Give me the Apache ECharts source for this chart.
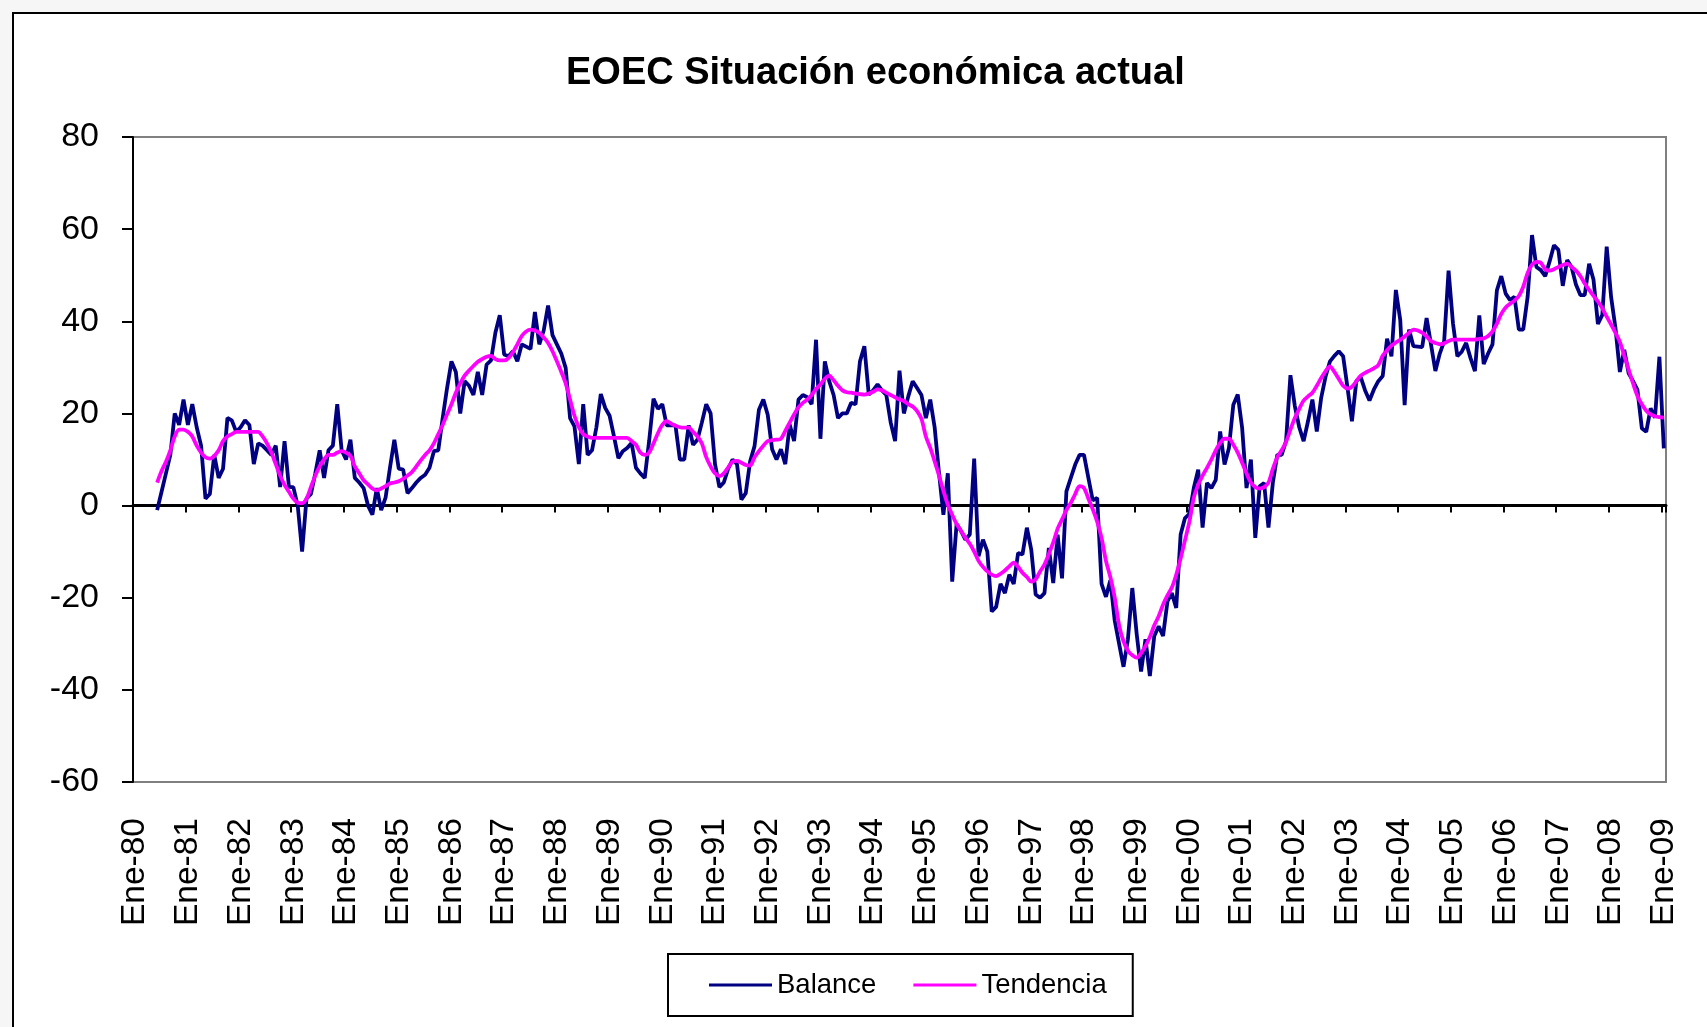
<!DOCTYPE html>
<html>
<head>
<meta charset="utf-8">
<script src="https://cdn.jsdelivr.net/npm/echarts@6.0.0/dist/echarts.min.js"></script>
<style>
  html, body { margin: 0; padding: 0; width: 1707px; height: 1027px; overflow: hidden; background: #f6f6f6; }
  #frame { position: absolute; left: 12px; top: 12px; width: 1730px; height: 1040px; background: #fff; border: 2px solid #000; box-sizing: border-box; }
  #chart { position: absolute; left: 0; top: 0; width: 1707px; height: 1027px; }
</style>
</head>
<body>
<div id="frame"></div>
<div id="chart"></div>
<script>
// Monthly series, January 1980 to January 2009 (one row per year, Ene..Dic)
const monthNames = ['Ene', 'Feb', 'Mar', 'Abr', 'May', 'Jun', 'Jul', 'Ago', 'Sep', 'Oct', 'Nov', 'Dic'];
const firstYear = 1980;
const lastYear = 2009;

const balance = [
  null, null, null, null, null, -1, 3, 7, 11, 20, 17.5, 23,            // 1980
  17.5, 22, 17, 13, 1.5, 2.5, 11, 6, 8, 19, 18.5, 16,                 // 1981
  17, 18.5, 17.5, 9, 13.5, 13, 12, 11, 13, 4, 14, 4,                  // 1982
  4, 0, -10, 1.5, 2.5, 7, 12, 6, 12, 13, 22, 12,                      // 1983
  10, 14.3, 6, 5, 3.8, 0, -2, 3.8, -1, 1.7, 8.2, 14.3,                // 1984
  8, 7.8, 2.7, 3.8, 5, 6, 6.7, 8.2, 11.8, 12, 19, 25.5,               // 1985
  31.3, 29, 20, 27, 26, 24, 29, 24, 30.6, 31.5, 37.5, 41.3,           // 1986
  32.8, 32.4, 33.5, 31.3, 35, 34.5, 34, 42, 35, 38, 43.4, 37,         // 1987
  35, 33, 29.9, 19, 17.2, 9, 22, 11, 12, 17, 24.2, 21.2,              // 1988
  19.5, 15, 10.3, 11.8, 12.5, 13.6, 8.2, 7, 6, 14, 23.2, 21,          // 1989
  22, 17.4, 17.4, 17.4, 10, 10, 17.4, 13.2, 14.3, 18, 22, 20,         // 1990
  9, 4, 5, 8, 10, 9, 1.3, 2.7, 9.6, 12.9, 20.8, 23,                   // 1991
  19.7, 12.2, 10, 12.2, 9, 17.6, 14, 23, 24, 23.5, 22, 36,            // 1992
  14.5, 31.3, 27, 24, 19, 20, 20, 22.3, 22, 31.3, 34.6, 24.1,         // 1993
  25, 26.3, 25, 24, 18, 14, 29.3, 20, 23.7, 27, 25.5, 24,             // 1994
  19, 23, 17, 7, -2, 7, -16.5, -4, -5.5, -7.4, -6.3, 10.2,            // 1995
  -11, -7.4, -10, -23, -22, -17, -19, -15, -17, -10.3, -10.6, -4.8,   // 1996
  -9.6, -19.3, -20, -19, -9.2, -16.8, -6.3, -15.8, 3.1, 6, 8.9, 11,   // 1997
  11, 6, 1.1, 1.7, -17, -19.8, -16.2, -25, -30, -35, -29, -17.9,      // 1998
  -27.9, -36, -29, -37, -28.3, -26.2, -28.3, -20.8, -19, -22.2, -6.3, -2.7, // 1999
  -1.8, 3.8, 7.8, -4.8, 4.9, 3.8, 5.6, 16.1, 8.9, 12.5, 21.9, 24.1,   // 2000
  16.9, 3.8, 10, -7, 4.2, 4.9, -4.8, 5, 11, 11, 14, 28.3,             // 2001
  21.6, 17, 14, 18.3, 23, 16.1, 23.4, 28, 31.3, 32.5, 33.5, 32.4,     // 2002
  25.5, 18.3, 27, 27.9, 25, 22.8, 25.2, 27, 28.1, 36.2, 32.4, 46.8,   // 2003
  40.3, 21.8, 38.2, 34.6, 34.5, 34.4, 40.7, 35, 29.2, 33, 35.7, 51,   // 2004
  39.6, 32.4, 33.4, 35.3, 32, 29.2, 41.3, 30.7, 33, 35, 46.7, 49.8,   // 2005
  46, 44.6, 45.3, 38.2, 38.2, 45.3, 58.7, 51.8, 51.1, 49.8, 53, 56.5, // 2006
  55.5, 47.7, 53.3, 51.8, 48, 45.7, 45.7, 52.5, 49, 39.4, 41.4, 56.2, // 2007
  45.3, 38.5, 29, 33.8, 28.7, 27, 25.1, 16.8, 16, 21.1, 19.1, 32.3,   // 2008
  12.4                                                                // 2009
];

const tendencia = [
  null, null, null, null, null, 5, 7.5, 9.5, 12, 15, 16.5, 16.5,          // 1980
  16, 15, 13, 11.5, 10.5, 10.2, 10.8, 12, 14, 15, 15.5, 16,               // 1981
  16, 16, 16, 16, 16, 15, 13.5, 11.5, 9, 6.5, 4.5, 3,                     // 1982
  1.5, 0.6, 0.5, 1.5, 4, 6.5, 8.5, 10, 11, 11, 11.5, 11.8,                // 1983
  11.5, 10.8, 8.5, 7, 5.5, 4.6, 3.7, 3.3, 3.7, 4.2, 4.8, 5,               // 1984
  5.3, 5.8, 6.5, 7.3, 8.5, 9.8, 11, 12, 13.5, 15.5, 17.5, 19.8,           // 1985
  22, 24.5, 26.5, 28.2, 29.3, 30.3, 31.2, 31.8, 32.3, 32.5, 31.8, 31.5,   // 1986
  31.5, 32, 33.3, 35, 36.8, 37.8, 38.2, 38, 37.5, 36.5, 35.3, 33.5,       // 1987
  31.3, 29, 26.5, 23, 19.5, 17, 15.5, 15, 14.7, 14.7, 14.7, 14.7,         // 1988
  14.7, 14.7, 14.7, 14.7, 14.7, 14, 13.2, 11.5, 11, 11.5, 13.5, 15.7,     // 1989
  17.5, 18.3, 17.8, 17.3, 17, 16.9, 16.9, 16, 15, 13.5, 10.5, 8.5,        // 1990
  7, 6.4, 7, 8.3, 9.5, 9.7, 9.3, 8.8, 8.7, 10.5, 11.8, 13,                // 1991
  14, 14.2, 14.3, 14.5, 16.2, 18, 19.8, 21.3, 22.3, 23, 24, 25.3,         // 1992
  26.3, 27.5, 28.2, 27.2, 26, 25, 24.6, 24.5, 24.3, 24.2, 24.1, 24.3,     // 1993
  24.7, 25.2, 25, 24.5, 24, 23.5, 23, 22.7, 22, 21.5, 20.5, 18.8,         // 1994
  15, 12.5, 9.6, 6.5, 3.2, 0.2, -2, -4, -5.5, -7, -8.3, -10,              // 1995
  -12, -13.3, -14.3, -15, -15.3, -14.8, -14.1, -13.2, -12.4, -13.3, -14.6, -15.5, // 1996
  -16.5, -16, -14.3, -12.8, -10.5, -8, -5, -3, -1, 0.6, 2.5, 4.2,         // 1997
  3.8, 1.5, -0.8, -3.5, -7, -12, -15.5, -20, -26, -29.5, -31.5, -32.5,    // 1998
  -33, -32, -30.5, -28.5, -26, -24, -21.5, -19.5, -17.8, -15, -11.5, -7.5, // 1999
  -3.5, 1.7, 4.5, 6.5, 8.2, 10, 12, 13.6, 14.5, 14.5, 13.2, 11.5,         // 2000
  9.3, 7, 5, 4, 3.7, 4, 5, 8, 10.5, 12, 13.8, 16.5,                       // 2001
  19, 21, 22.8, 23.7, 24.5, 26, 27.7, 29.2, 30.2, 29, 27.5, 26,           // 2002
  25.4, 25.8, 27, 28.2, 28.8, 29.3, 29.8, 30.5, 32.5, 33.7, 34.7, 35.4,   // 2003
  36, 36.7, 37.5, 38.2, 38, 37.5, 36.7, 35.7, 35.3, 35, 35.2, 35.7,       // 2004
  36, 36, 36, 36, 36, 36, 36.2, 36.3, 36.8, 37.8, 39.5, 41.6,             // 2005
  43, 43.8, 44.5, 45.5, 47.5, 50.5, 52.3, 52.9, 52.7, 51.3, 51, 51.3,     // 2006
  51.8, 52.2, 52.5, 51.8, 51, 49.8, 48.2, 46.8, 45.5, 44.3, 42.8, 41,     // 2007
  39.3, 37.5, 35.5, 32.5, 29.5, 26.5, 23.8, 22, 20.6, 19.8, 19.4, 19.2,   // 2008
  19.1                                                                    // 2009
];

// Category labels "Ene-80" ... "Ene-09"
const months = [];
for (let y = firstYear; y <= lastYear; y++) {
  for (let m = 0; m < 12; m++) {
    if (y === lastYear && m > 0) break;
    months.push(monthNames[m] + '-' + String(y % 100).padStart(2, '0'));
  }
}

const FONT = '"Liberation Sans", Arial, sans-serif';
const chart = echarts.init(document.getElementById('chart'), null, { renderer: 'canvas' });

chart.setOption({
  backgroundColor: 'transparent',
  animation: false,
  title: {
    text: 'EOEC Situación económica actual',
    left: 566,
    top: 55,
    padding: 0,
    textStyle: { fontFamily: FONT, fontSize: 38, fontWeight: 'bold', color: '#000' }
  },
  legend: {
    data: ['Balance', 'Tendencia'],
    left: 668,
    top: 954,
    padding: [17, 26, 17, 41],
    borderColor: '#000',
    borderWidth: 2,
    icon: 'rect',
    itemWidth: 63,
    itemHeight: 3,
    itemGap: 37,
    textStyle: { fontFamily: FONT, fontSize: 27.5, color: '#000' }
  },
  grid: {
    left: 133,
    top: 137,
    right: 41,
    bottom: 245,
    show: true,
    borderColor: '#808080',
    borderWidth: 2,
    backgroundColor: 'transparent'
  },
  xAxis: [
    {
      // bottom axis: year labels only
      type: 'category',
      data: months,
      position: 'bottom',
      boundaryGap: true,
      axisLine: { show: false, onZero: false },
      axisTick: { show: false },
      splitLine: { show: false },
      axisLabel: {
        interval: 11,
        rotate: 90,
        margin: 36,
        fontFamily: FONT,
        fontSize: 33.5,
        color: '#000'
      }
    },
    {
      // zero line with yearly tick marks
      type: 'category',
      data: months,
      position: 'top',
      boundaryGap: true,
      axisLine: { show: true, onZero: true, lineStyle: { color: '#000', width: 3 } },
      axisTick: { show: true, interval: 11, inside: true, length: 7, lineStyle: { color: '#000', width: 2 } },
      axisLabel: { show: false },
      splitLine: { show: false }
    }
  ],
  yAxis: {
    type: 'value',
    min: -60,
    max: 80,
    interval: 20,
    axisLine: { show: true, onZero: false, lineStyle: { color: '#000', width: 2 } },
    axisTick: { show: true, length: 11, lineStyle: { color: '#000', width: 2 } },
    splitLine: { show: false },
    axisLabel: { margin: 34, fontFamily: FONT, fontSize: 34, color: '#000' }
  },
  series: [
    {
      name: 'Balance',
      type: 'line',
      xAxisIndex: 0,
      data: balance,
      symbol: 'none',
      lineStyle: { color: '#000080', width: 3.8 },
      itemStyle: { color: '#000080' }
    },
    {
      name: 'Tendencia',
      type: 'line',
      xAxisIndex: 0,
      data: tendencia,
      symbol: 'none',
      smooth: 0.3,
      lineStyle: { color: '#ff00ff', width: 3.8 },
      itemStyle: { color: '#ff00ff' }
    }
  ]
});
</script>
</body>
</html>
